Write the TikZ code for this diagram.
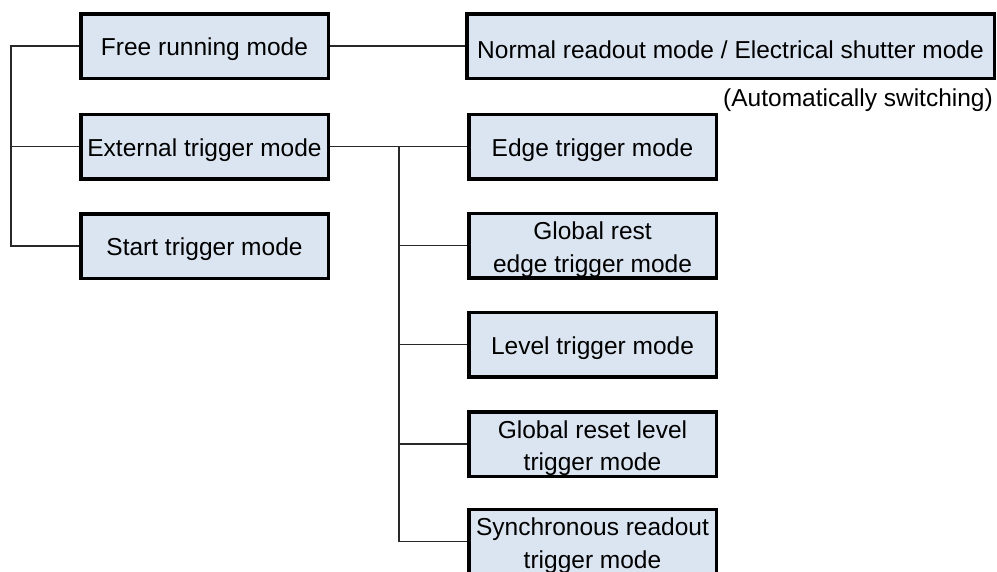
\documentclass[tikz,border=0pt]{standalone}
\usepackage{fontspec}
\setmainfont{Liberation Sans}
\definecolor{boxfill}{RGB}{219,229,241}
\definecolor{linegray}{RGB}{40,40,40}
\newcommand{\toppad}{\rule{0pt}{26pt}}
\begin{document}
\begin{tikzpicture}[x=1pt,y=-1pt,
  basebox/.style={draw=black, line width=3.5pt, fill=boxfill, minimum width=247.5pt,
    minimum height=64.5pt, inner sep=0pt, align=center,
    font=\fontsize{24.5}{32.5}\selectfont},
  modebox/.style={basebox, text height=25pt},
  conn/.style={draw=linegray, line width=1.6pt},
  note/.style={inner sep=0pt, font=\fontsize{24.5}{30}\selectfont}]
\useasboundingbox (0,0) rectangle (997,571);
\fill[white] (0,0) rectangle (997,571);
\clip (0,0) rectangle (997,571);
% left column
\node[modebox] (free)  at (204.5,46)    {Free running mode};
\node[modebox] (ext)   at (204.5,146.5) {External trigger mode};
\node[modebox] (start) at (204.5,246)   {Start trigger mode};
% right column
\node[modebox, minimum width=527.5pt] (normal) at (730.5,46) {Normal readout mode / Electrical shutter mode};
\node[note, anchor=east] (auto) at (993,100) {(Automatically switching)};
\node[modebox] (edge)  at (592.5,146.5) {Edge trigger mode};
\node[basebox] (grest) at (592.5,245.5) {\toppad Global rest\\edge trigger mode};
\node[modebox] (level) at (592.5,344.5) {Level trigger mode};
\node[basebox] (greset) at (592.5,444) {\toppad Global reset level\\trigger mode};
\node[basebox] (sync)  at (592.5,541.5) {\toppad Synchronous readout\\trigger mode};
% left trunk
\coordinate (lt) at (11,46);
\coordinate (lb) at (11,246);
\draw[conn] (free.west) -- (lt) -- (lb) -- (start.west);
\draw[conn] (ext.west) -- (lt |- ext.west);
% top link
\draw[conn] (free.east) -- (normal.west);
% right trunk
\coordinate (tt) at (399,146.5);
\coordinate (tb) at (399,541.5);
\draw[conn] (ext.east) -- (edge.west);
\draw[conn] (tt) -- (tb) -- (sync.west);
\draw[conn] (tt |- grest.west) -- (grest.west);
\draw[conn] (tt |- level.west) -- (level.west);
\draw[conn] (tt |- greset.west) -- (greset.west);
\end{tikzpicture}
\end{document}
